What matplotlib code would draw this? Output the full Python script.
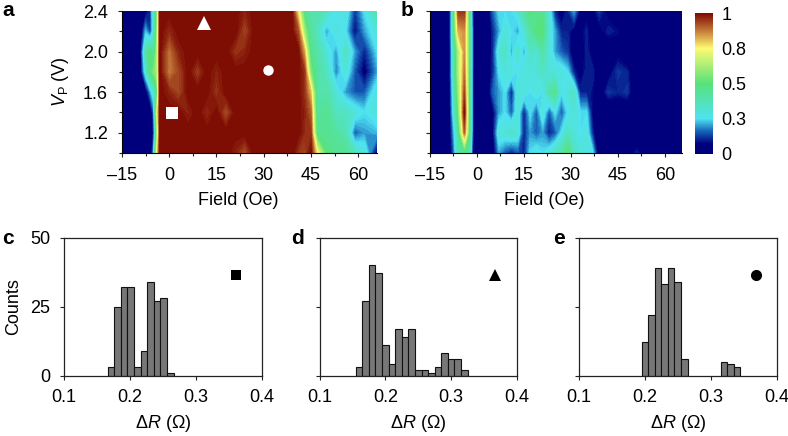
import matplotlib
matplotlib.use("Agg")
import matplotlib.pyplot as plt
import numpy as np
from matplotlib.colors import LinearSegmentedColormap
from matplotlib.ticker import MultipleLocator

plt.rcParams['font.family'] = ['Liberation Sans', 'DejaVu Sans']
plt.rcParams['mathtext.fontset'] = 'custom'
plt.rcParams['mathtext.rm'] = 'Liberation Sans'
plt.rcParams['mathtext.it'] = 'Liberation Sans:italic'
plt.rcParams['font.size'] = 13

# heatmap values, rows listed from bottom (1.0 V) to top (2.4 V)
vp = [1.0, 1.2, 1.4, 1.6, 1.8, 2.0, 2.2, 2.4]

field_a = [-15, -11, -9, -7.5, -6, -5, -4, -3, 0, 3, 6, 9, 12, 15, 18, 21, 24, 27, 30, 33, 36, 39,
           41, 43, 45, 47, 50, 53, 56, 59, 62, 66]
map_a = [
    [0, 0, 0, 0, 0, .2, .7, 1, 1, 1, 1, 1, 1, 1, 1, .97, .92, 1, 1, 1, 1, 1, .95, .93, 1, .75, .48, .45, .45, .35, .3, .05],
    [0, 0, 0, 0, 0, .1, .55, 1, 1, 1, 1, 1, 1, 1, 1, 1, 1, 1, 1, 1, 1, 1, 1, .96, .95, .45, .45, .42, .38, .15, .2, .22],
    [0, 0, 0, 0, 0, .15, .65, 1, 1, 1, .97, 1, .96, 1, .92, 1, 1, 1, 1, 1, 1, 1, 1, .97, .9, .42, .45, .35, .35, .3, .25, .3],
    [0, 0, 0, .02, .2, .3, .45, 1, .97, .93, 1, 1, 1, .95, 1, 1, 1, 1, 1, 1, 1, 1, 1, .95, .8, .4, .4, .3, .2, .15, .15, .3],
    [0, 0, .05, .3, .5, .55, .6, 1, .87, .93, 1, .94, 1, .97, 1, 1, 1, 1, 1, 1, 1, 1, 1, .95, .55, .42, .35, .18, .3, .15, .05, .2],
    [0, 0, .08, .4, .5, .4, .6, 1, .88, .97, 1, 1, 1, 1, 1, .95, .97, 1, 1, 1, 1, 1, 1, .82, .45, .4, .3, .2, .35, .2, .1, .25],
    [0, 0, .02, .22, .12, .3, .55, 1, .96, 1, 1, 1, 1, 1, 1, 1, .93, 1, 1, 1, 1, 1, .92, .6, .42, .35, .2, .3, .25, .08, .2, .3],
    [0, 0, 0, .05, .1, .35, .5, 1, 1, 1, 1, 1, 1, 1, 1, 1, .97, 1, 1, 1, 1, 1, .75, .45, .4, .4, .35, .25, .3, .12, .25, .4],
]

field_b = [-15, -9, -7.5, -6, -4, -2.5, -1, 0, 3, 5, 7, 9, 11, 13, 15, 17, 19, 21, 23, 25, 27, 29, 31, 33, 35, 37, 39,
           42, 45, 48, 51, 55, 66]
map_b = [
    [0, 0, .15, .4, .45, .4, 0, 0, 0, .02, .2, .15, .1, .15, .1, .25, .3, .25, .3, .35, .4, .5, .35, .3, .3, .25, 0, 0, 0, 0, .1, 0, 0],
    [0, 0, .2, .42, .9, .5, .03, 0, 0, .05, .3, .3, .35, .3, .1, .2, .15, .2, .1, .15, .25, .35, .3, .25, .3, .1, 0, 0, 0, 0, 0, 0, 0],
    [0, 0, .28, .52, 1, .5, .03, 0, 0, .05, .2, .25, .15, .3, .1, .25, .15, .3, .15, .25, .15, .25, .3, .25, .25, .05, 0, 0, 0, 0, 0, 0, 0],
    [0, 0, .32, .58, .93, .5, .03, 0, 0, .15, .2, .25, .1, .3, .3, .25, .3, .25, .4, .45, .25, .3, .35, .1, .1, .08, .02, .12, .1, .12, 0, 0, 0],
    [0, 0, .36, .62, .88, .5, .03, 0, .02, .1, .25, .3, .3, .25, .3, .3, .3, .35, .3, .3, .3, .25, .1, .05, .1, .1, .02, .05, .12, .1, 0, 0, 0],
    [0, 0, .36, .62, .85, .52, .03, 0, 0, .1, .3, .35, .2, .35, .2, .35, .3, .4, .3, .2, .15, .12, .02, .02, .1, .05, 0, .02, .05, 0, 0, 0, 0],
    [0, 0, .42, .82, .85, .52, .03, 0, 0, .1, .2, .3, .25, .2, .3, .4, .5, .5, .3, .2, .1, .1, .05, .05, .1, 0, .05, .1, .08, 0, 0, 0, 0],
    [0, 0, .42, .95, .95, .45, .03, 0, 0, .15, .25, .25, .25, .3, .4, .5, .45, .45, .3, .1, .05, .1, .2, .05, .05, .05, .12, .05, .02, 0, 0, 0, 0],
]

# histogram bars
centers_c = [.171, .181, .191, .201, .211, .221, .231, .241, .251, .261]
counts_c = [3, 25, 32, 32, 3, 9, 34, 27, 28, 1]
centers_d = [.16, .17, .18, .19, .20, .21, .22, .23, .24, .25, .26, .27, .28, .29, .30, .31, .32]
counts_d = [3, 27, 40, 37, 11, 4, 17, 14, 17, 2, 2, 1, 3, 8, 6, 6, 2]
centers_e = [.20, .21, .22, .23, .24, .25, .26, .32, .33, .34]
counts_e = [12, 22, 39, 33, 39, 34, 6, 5, 4, 3]

cbar_ticks = [0, .25, .5, .75, 1]
cbar_labels = ['0', '0.3', '0.5', '0.8', '1']
field_ticks = [-15, 0, 15, 30, 45, 60]
field_labels = ['\u201315', '0', '15', '30', '45', '60']

W, H = 788, 436
cmap = LinearSegmentedColormap.from_list('jetish', [
    (0, '#00007c'), (.07, '#00007c'), (.16, '#1763b8'), (.25, '#4fe3f2'), (.5, '#58e27a'),
    (.75, '#fdfb72'), (.87, '#c9803c'), (1, '#7c0a02')])


def add_ax(left, top, right, bottom):
    return fig.add_axes([left / W, 1 - bottom / H, (right - left) / W, (bottom - top) / H])


def style_map(ax, xmax):
    ax.set_xlim(-15, xmax)
    ax.set_ylim(1.0, 2.4)
    ax.set_xticks(field_ticks)
    ax.set_xticklabels(field_labels)
    ax.xaxis.set_minor_locator(MultipleLocator(7.5))
    ax.yaxis.set_minor_locator(MultipleLocator(.2))
    ax.set_yticks([1.2, 1.6, 2.0, 2.4])
    ax.tick_params(which='both', direction='out', width=.8, color='#222222')
    ax.tick_params(which='major', length=3, pad=7)
    ax.tick_params(which='minor', length=2)
    ax.spines['top'].set_visible(False)
    ax.spines['right'].set_visible(False)
    # the label sits left of the axes centre in the original
    ax.set_xlabel('Field (Oe)', labelpad=6, x=.455)


def hist_panel(ax, centers, counts):
    ax.bar(centers, counts, width=.01, color='#777777', edgecolor='#111111', linewidth=.8)
    ax.set_xlim(.1, .4)
    ax.set_ylim(0, 50)
    ax.set_xticks([.1, .2, .3, .4])
    ax.set_xticklabels(['0.1', '0.2', '0.3', '0.4'])
    ax.set_yticks([0, 25, 50])
    ax.tick_params(direction='out', length=3, width=.8, pad=7, color='#222222')
    for s in ax.spines.values():
        s.set_linewidth(.9)
        s.set_color('#222222')
    ax.set_xlabel('\u0394$\\mathit{R}$ (\u03a9)', labelpad=5)


fig = plt.figure(figsize=(W / 100, H / 100), dpi=100)
levels = np.linspace(0, 1, 81)

ax_a = add_ax(122, 11, 377, 153)
ax_a.contourf(field_a, vp, np.array(map_a), levels=levels, cmap=cmap, extend='both')
style_map(ax_a, 66)
ax_a.set_yticklabels(['1.2', '1.6', '2.0', '2.4'])
ax_a.set_ylabel('$\\mathit{V}_{\\mathrm{P}}$ (V)', labelpad=9)
ax_a.plot([11], [2.28], '^', color='white', ms=9.5, mew=0)
ax_a.plot([31.5], [1.82], 'o', color='white', ms=7.5, mew=0)
ax_a.plot([1], [1.39], 's', color='white', ms=8, mew=0)

ax_b = add_ax(430, 11, 682, 153)
ax_b.contourf(field_b, vp, np.array(map_b), levels=levels, cmap=cmap, extend='both')
style_map(ax_b, 65.5)
ax_b.set_yticklabels([])

ax_cb = add_ax(695, 13, 713, 154)
ax_cb.imshow(np.linspace(1, 0, 256).reshape(-1, 1), cmap=cmap, aspect='auto', extent=[0, 1, 0, 1])
ax_cb.set_xticks([])
ax_cb.yaxis.tick_right()
ax_cb.set_yticks(cbar_ticks)
ax_cb.set_yticklabels(cbar_labels)
ax_cb.tick_params(length=0, pad=6)
for s in ax_cb.spines.values():
    s.set_visible(False)

ax_c = add_ax(64, 237.5, 262, 375.5)
hist_panel(ax_c, centers_c, counts_c)
ax_c.set_yticklabels(['0', '25', '50'])
ax_c.set_ylabel('Counts', labelpad=6)
ax_c.plot([.361], [36.3], 's', color='black', ms=7.5, mew=0)

ax_d = add_ax(319.5, 237.5, 517, 375.5)
hist_panel(ax_d, centers_d, counts_d)
ax_d.set_yticklabels([])
ax_d.plot([.366], [36.5], '^', color='black', ms=8.5, mew=0)

ax_e = add_ax(579, 237.5, 776.5, 375.5)
hist_panel(ax_e, centers_e, counts_e)
ax_e.set_yticklabels([])
ax_e.plot([.369], [36.5], 'o', color='black', ms=8, mew=0)

for letter, px, py in [('a', 2, 10), ('b', 401, 10), ('c', 2, 238), ('d', 291, 238), ('e', 553, 238)]:
    fig.text(px / W, 1 - py / H, letter, fontsize=15, fontweight='bold', ha='left', va='center')

fig.savefig('out.png', dpi=100)
